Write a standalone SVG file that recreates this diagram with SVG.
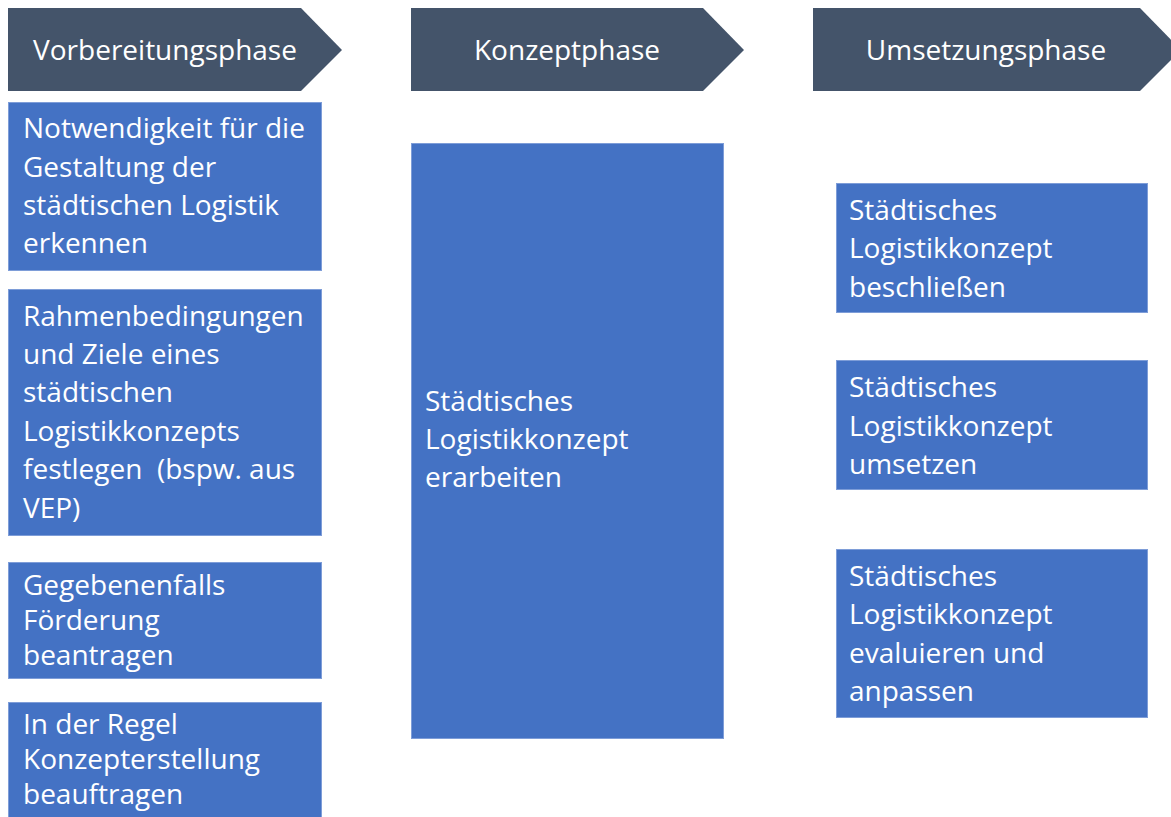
<svg xmlns="http://www.w3.org/2000/svg" width="1171" height="817" viewBox="0 0 1171 817">
<style>
.phase{fill:#44546A;}
.box{fill:#4472C4;stroke:#7E9DD8;stroke-width:1;}
.ph{font-family:"Open Sans","Liberation Sans",sans-serif;font-size:28px;fill:#FFFFFF;text-anchor:middle;}
.t{font-family:"Open Sans","Liberation Sans",sans-serif;font-size:28px;fill:#FFFFFF;}
</style>
<rect width="1171" height="817" fill="#FFFFFF"/>
<g id="phase-vorbereitung">
<polygon class="phase" points="8,8 301,8 342,50 301,91 8,91"/>
<text class="ph" x="165" y="60">Vorbereitungsphase</text>
</g>
<g id="phase-konzept">
<polygon class="phase" points="411,8 703,8 744,50 703,91 411,91"/>
<text class="ph" x="567" y="60">Konzeptphase</text>
</g>
<g id="phase-umsetzung">
<polygon class="phase" points="813,8 1140,8 1181,50 1140,91 813,91"/>
<text class="ph" x="986" y="60">Umsetzungsphase</text>
</g>
<g id="v1">
<rect class="box" x="8.5" y="102.5" width="313" height="168"/>
<text class="t"><tspan x="23" y="138">Notwendigkeit für die</tspan><tspan x="23" y="177">Gestaltung der</tspan><tspan x="23" y="215">städtischen Logistik</tspan><tspan x="23" y="253">erkennen</tspan></text>
</g>
<g id="v2">
<rect class="box" x="8.5" y="289.5" width="313" height="246"/>
<text class="t"><tspan x="23" y="326">Rahmenbedingungen</tspan><tspan x="23" y="364">und Ziele eines</tspan><tspan x="23" y="402">städtischen</tspan><tspan x="23" y="441">Logistikkonzepts</tspan><tspan x="23" y="479">festlegen&#160; (bspw. aus</tspan><tspan x="23" y="518">VEP)</tspan></text>
</g>
<g id="v3">
<rect class="box" x="8.5" y="562.5" width="313" height="116"/>
<text class="t"><tspan x="23" y="595">Gegebenenfalls</tspan><tspan x="23" y="630">Förderung</tspan><tspan x="23" y="665">beantragen</tspan></text>
</g>
<g id="v4">
<rect class="box" x="8.5" y="702.5" width="313" height="120"/>
<text class="t"><tspan x="23" y="734">In der Regel</tspan><tspan x="23" y="769">Konzepterstellung</tspan><tspan x="23" y="804">beauftragen</tspan></text>
</g>
<g id="k1">
<rect class="box" x="411.5" y="143.5" width="312" height="595"/>
<text class="t"><tspan x="425" y="411">Städtisches</tspan><tspan x="425" y="449">Logistikkonzept</tspan><tspan x="425" y="487">erarbeiten</tspan></text>
</g>
<g id="u1">
<rect class="box" x="836.5" y="183.5" width="311" height="129"/>
<text class="t"><tspan x="849" y="220">Städtisches</tspan><tspan x="849" y="258">Logistikkonzept</tspan><tspan x="849" y="297">beschließen</tspan></text>
</g>
<g id="u2">
<rect class="box" x="836.5" y="360.5" width="311" height="129"/>
<text class="t"><tspan x="849" y="397">Städtisches</tspan><tspan x="849" y="436">Logistikkonzept</tspan><tspan x="849" y="474">umsetzen</tspan></text>
</g>
<g id="u3">
<rect class="box" x="836.5" y="549.5" width="311" height="168"/>
<text class="t"><tspan x="849" y="586">Städtisches</tspan><tspan x="849" y="624">Logistikkonzept</tspan><tspan x="849" y="663">evaluieren und</tspan><tspan x="849" y="701">anpassen</tspan></text>
</g>
<g id="connectors"></g>
</svg>
